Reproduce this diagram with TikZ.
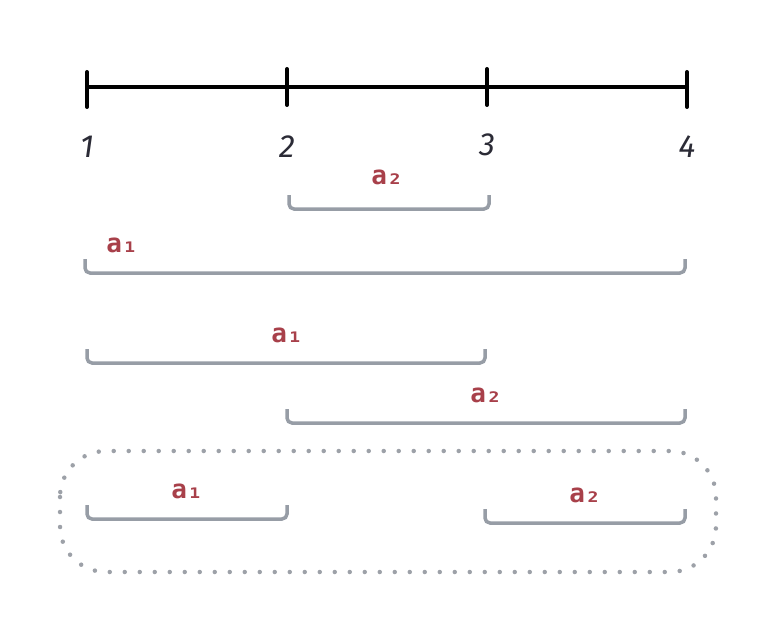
\documentclass[tikz,border=0pt]{standalone}
\usepackage{fontspec}
\newfontfamily\labfont{DejaVu Sans Mono}
\newfontfamily\numfont{Fira Sans}
\usetikzlibrary{calc}
\definecolor{brk}{HTML}{979DA6}
\definecolor{lab}{HTML}{A8404A}
\definecolor{num}{HTML}{2B2B36}
\definecolor{dots}{HTML}{9DA1A8}
\tikzset{
  axis/.style={line width=4pt, black, line cap=round},
  bracket/.style={line width=3.5pt, brk, rounded corners=5pt},
  lbl/.style={text=lab, font=\labfont\bfseries\fontsize{26}{26}\selectfont, inner sep=0pt},
  numlbl/.style={text=num, font=\numfont\itshape\fontsize{32}{32}\selectfont, inner sep=0pt},
  dotbox/.style={dots, line width=4.5pt, line cap=round, dash pattern=on 0pt off 15pt, rounded corners=46pt}
}
\begin{document}
\begin{tikzpicture}[x=1pt,y=-1pt]
\useasboundingbox (0,0) rectangle (774,623);
% number line
\coordinate (p1) at (87,87);
\coordinate (p2) at (287,87);
\coordinate (p3) at (487,87);
\coordinate (p4) at (687,87);
\draw[axis] (p1) -- (p4);
\draw[axis] (87,72) -- (87,107);
\draw[axis] (287,69) -- (287,105);
\draw[axis] (487,69) -- (487,105);
\draw[axis] (687,72) -- (687,107);
\node[numlbl] (n1) at (87,147) {1};
\node[numlbl] (n2) at (287,147) {2};
\node[numlbl] (n3) at (487,145) {3};
\node[numlbl] (n4) at (687,147) {4};
% brackets
\draw[bracket] (289,195) -- (289,209) -- (489,209) -- (489,195);
\node[lbl] (l1) at (387,177) {a₂};
\draw[bracket] (85,259) -- (85,273) -- (685,273) -- (685,259);
\node[lbl] (l2) at (122,245) {a₁};
\draw[bracket] (87,349) -- (87,363) -- (485,363) -- (485,349);
\node[lbl] (l3) at (287,335) {a₁};
\draw[bracket] (287,409) -- (287,423) -- (685,423) -- (685,409);
\node[lbl] (l4) at (486,395) {a₂};
\draw[bracket] (87,505) -- (87,519) -- (287,519) -- (287,505);
\node[lbl] (l5) at (187,491) {a₁};
\draw[bracket] (485,509) -- (485,523) -- (685,523) -- (685,509);
\node[lbl] (l6) at (585,495) {a₂};
% dotted group
\draw[dotbox] (60,451) rectangle (716,572);
\end{tikzpicture}
\end{document}
